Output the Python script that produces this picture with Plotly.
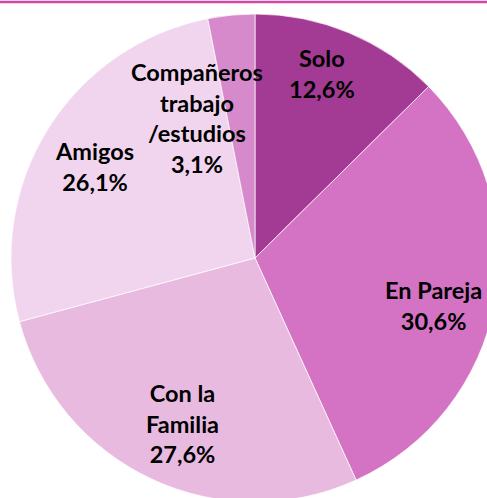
import plotly.graph_objects as go

labels = ["Solo", "En Pareja", "Con la Familia", "Amigos", "Compañeros trabajo /estudios"]
values = [12.6, 30.6, 27.6, 26.1, 3.1]
text_labels = ["Solo<br>12,6%", "En Pareja<br>30,6%", "Con la<br>Familia<br>27,6%",
               "Amigos<br>26,1%", "Compañeros<br>trabajo<br>/estudios<br>3,1%"]
colors = ["#A33A93", "#D473C4", "#E9BAE0", "#F1D5EE", "#D68ACB"]
# label centres in pixels (from top-left)
label_px = [(322, 73), (433, 305), (182, 423), (94, 167), (197, 118)]

W, H = 500, 504
cx, cy, r = 255, 258, 244

fig = go.Figure(go.Pie(
    labels=labels, values=values, sort=False, direction="clockwise", rotation=0,
    marker=dict(colors=colors, line=dict(color="white", width=0.7)),
    textinfo="none", hoverinfo="label+percent", showlegend=False,
    domain=dict(x=[(cx - r) / W, (cx + r) / W], y=[1 - (cy + r) / H, 1 - (cy - r) / H]),
))

for t, (px, py) in zip(text_labels, label_px):
    fig.add_annotation(x=px / W, y=1 - py / H, xref="paper", yref="paper", text=t,
                       showarrow=False, xanchor="center", yanchor="middle",
                       font=dict(family="Lato", size=23.5, color="#000000", weight="bold"))

fig.add_shape(type="line", xref="paper", yref="paper", x0=0, x1=1, y0=1 - 2 / H, y1=1 - 2 / H,
              line=dict(color="#D24AA8", width=2.5))

fig.update_layout(width=W, height=H, margin=dict(l=0, r=0, t=0, b=0),
                  paper_bgcolor="white", plot_bgcolor="white")

fig.write_html("out.html", config={"displayModeBar": False},
               post_script="document.body.style.margin='0';document.body.style.overflow='hidden';document.documentElement.style.overflow='hidden';")
